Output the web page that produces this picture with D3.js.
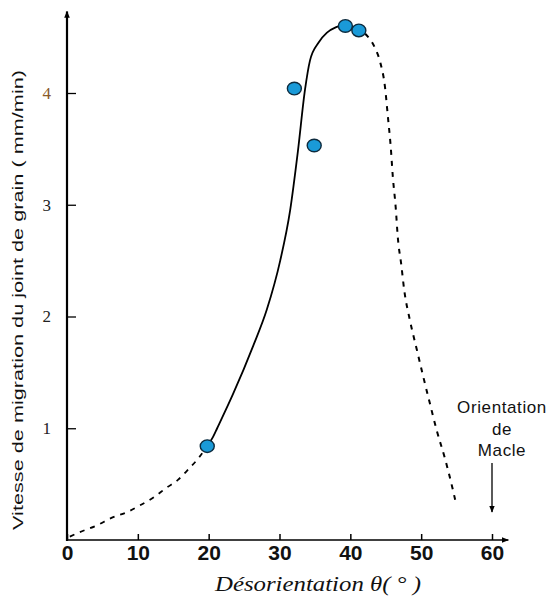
<!DOCTYPE html>
<html><head><meta charset="utf-8">
<script src="https://cdn.jsdelivr.net/npm/d3@7"></script>
<style>body{margin:0;background:#fff;}svg{display:block;}</style>
</head><body>
<script>
// Data
const dashLeftX = [0.4, 1.8, 4.2, 6.35, 8.5, 10.3, 12.2, 14.1, 15.7, 17.1, 18.4, 19.8];
const dashLeftY = [0.03, 0.07, 0.13, 0.2, 0.25, 0.31, 0.38, 0.47, 0.54, 0.63, 0.72, 0.84];
const solidX = [19.8, 20.6, 21.2, 23.4, 26.3, 28.2, 30.1, 31.5, 32.6, 33.6, 34.3, 35.5, 36.7, 38.0, 39.3, 41.2, 42.1];
const solidY = [0.84, 0.92, 1.0, 1.3, 1.74, 2.06, 2.5, 2.95, 3.48, 4.03, 4.29, 4.45, 4.54, 4.59, 4.61, 4.56, 4.53];
const dashRightX = [42.1, 43.5, 44.2, 44.9, 45.3, 45.7, 46.0, 46.4, 46.7, 47.2, 47.6, 48.4, 49.4, 50.3, 51.2, 52.2, 53.4, 54.4, 54.8];
const dashRightY = [4.53, 4.40, 4.28, 4.05, 3.79, 3.52, 3.25, 2.98, 2.71, 2.46, 2.24, 1.97, 1.70, 1.46, 1.23, 0.98, 0.72, 0.47, 0.36];
const pointsX = [19.8, 32.1, 34.9, 39.3, 41.2];
const pointsY = [0.84, 4.04, 3.53, 4.6, 4.56];
const xTicks = [0, 10, 20, 30, 40, 50, 60];
const yTicks = [1, 2, 3, 4];
const xTitle = "Désorientation θ( ° )";
const yTitle = "Vitesse de migration du joint de grain ( mm/min)";
const noteLines = ["Orientation", "de", "Macle"];

const W = 551, H = 597;
const svg = d3.select("body").append("svg").attr("width", W).attr("height", H);
const x = d3.scaleLinear().domain([0, 60]).range([67, 492]);
const y = d3.scaleLinear().domain([0, 4]).range([540, 93]);

const defs = svg.append("defs");
defs.append("marker").attr("id", "arr").attr("viewBox", "0 0 10 10")
  .attr("refX", 9).attr("refY", 5).attr("markerWidth", 7).attr("markerHeight", 7)
  .attr("markerUnits", "userSpaceOnUse").attr("orient", "auto")
  .append("path").attr("d", "M0,1 L10,5 L0,9 Z").attr("fill", "#000");

// axis lines
svg.append("line").attr("x1", x(0)).attr("x2", x(0)).attr("y1", y(0) + 1).attr("y2", y(4.73))
  .attr("stroke", "#000").attr("stroke-width", 2.2).attr("marker-end", "url(#arr)");
svg.append("line").attr("x1", x(0) - 1).attr("x2", x(62.3)).attr("y1", y(0)).attr("y2", y(0))
  .attr("stroke", "#000").attr("stroke-width", 1.6).attr("marker-end", "url(#arr)");

// axes (ticks)
const gx = svg.append("g").attr("transform", `translate(0,${y(0)})`)
  .call(d3.axisBottom(x).tickValues(xTicks).tickSize(-6).tickPadding(5).tickFormat(d3.format("d")));
gx.select(".domain").remove();
gx.selectAll(".tick line").attr("stroke", "#000").attr("stroke-width", 1.5);
gx.selectAll(".tick text").attr("font-family", "Liberation Sans, Arial, sans-serif")
  .attr("font-weight", "bold").attr("font-size", 21).attr("fill", "#111");

const gy = svg.append("g").attr("transform", `translate(${x(0)},0)`)
  .call(d3.axisLeft(y).tickValues(yTicks).tickSize(-9).tickPadding(16).tickFormat(d3.format("d")));
gy.select(".domain").remove();
gy.selectAll(".tick line").attr("stroke", "#000").attr("stroke-width", 1.3);
gy.selectAll(".tick text").attr("font-family", "Liberation Serif, Times New Roman, serif")
  .attr("font-size", 17).attr("fill", d => d === 4 ? "#8a5a2a" : "#222");

// curves
const line = d3.line().x(d => x(d[0])).y(d => y(d[1])).curve(d3.curveMonotoneX);
svg.append("path").datum(d3.zip(dashLeftX, dashLeftY)).attr("d", line)
  .attr("fill", "none").attr("stroke", "#000").attr("stroke-width", 1.8).attr("stroke-dasharray", "5,6");
svg.append("path").datum(d3.zip(solidX, solidY)).attr("d", line)
  .attr("fill", "none").attr("stroke", "#000").attr("stroke-width", 1.8);
svg.append("path").datum(d3.zip(dashRightX, dashRightY)).attr("d", line)
  .attr("fill", "none").attr("stroke", "#000").attr("stroke-width", 2).attr("stroke-dasharray", "5,6");

// points
svg.append("g").selectAll("ellipse").data(d3.zip(pointsX, pointsY)).join("ellipse")
  .attr("cx", d => x(d[0])).attr("cy", d => y(d[1])).attr("rx", 7).attr("ry", 6.3)
  .attr("fill", "#1a9ad8").attr("stroke", "#0d2b3e").attr("stroke-width", 1.4);

// note
const nt = svg.append("text").attr("x", x(60) + 10).attr("y", 413)
  .attr("text-anchor", "middle").attr("font-family", "Liberation Sans, Arial, sans-serif")
  .attr("font-size", 17).attr("letter-spacing", 0.6).attr("fill", "#111");
noteLines.forEach((t, i) => nt.append("tspan").attr("x", x(60) + 10).attr("y", 413 + i * 21.5).text(t));
svg.append("line").attr("x1", x(60)).attr("x2", x(60)).attr("y1", 463).attr("y2", 512)
  .attr("stroke", "#000").attr("stroke-width", 1.3).attr("marker-end", "url(#arr)");

// titles
svg.append("text").attr("x", 318).attr("y", 591).attr("text-anchor", "middle")
  .attr("font-family", "Liberation Serif, Times New Roman, serif").attr("font-style", "italic")
  .attr("font-size", 22).attr("textLength", 206).attr("lengthAdjust", "spacingAndGlyphs")
  .attr("fill", "#111").text(xTitle);
svg.append("text").attr("transform", "translate(23,300) rotate(-90)").attr("text-anchor", "middle")
  .attr("font-family", "Liberation Sans, Arial, sans-serif").attr("font-size", 15)
  .attr("textLength", 460).attr("lengthAdjust", "spacingAndGlyphs")
  .attr("fill", "#111").text(yTitle);
</script>
</body></html>
